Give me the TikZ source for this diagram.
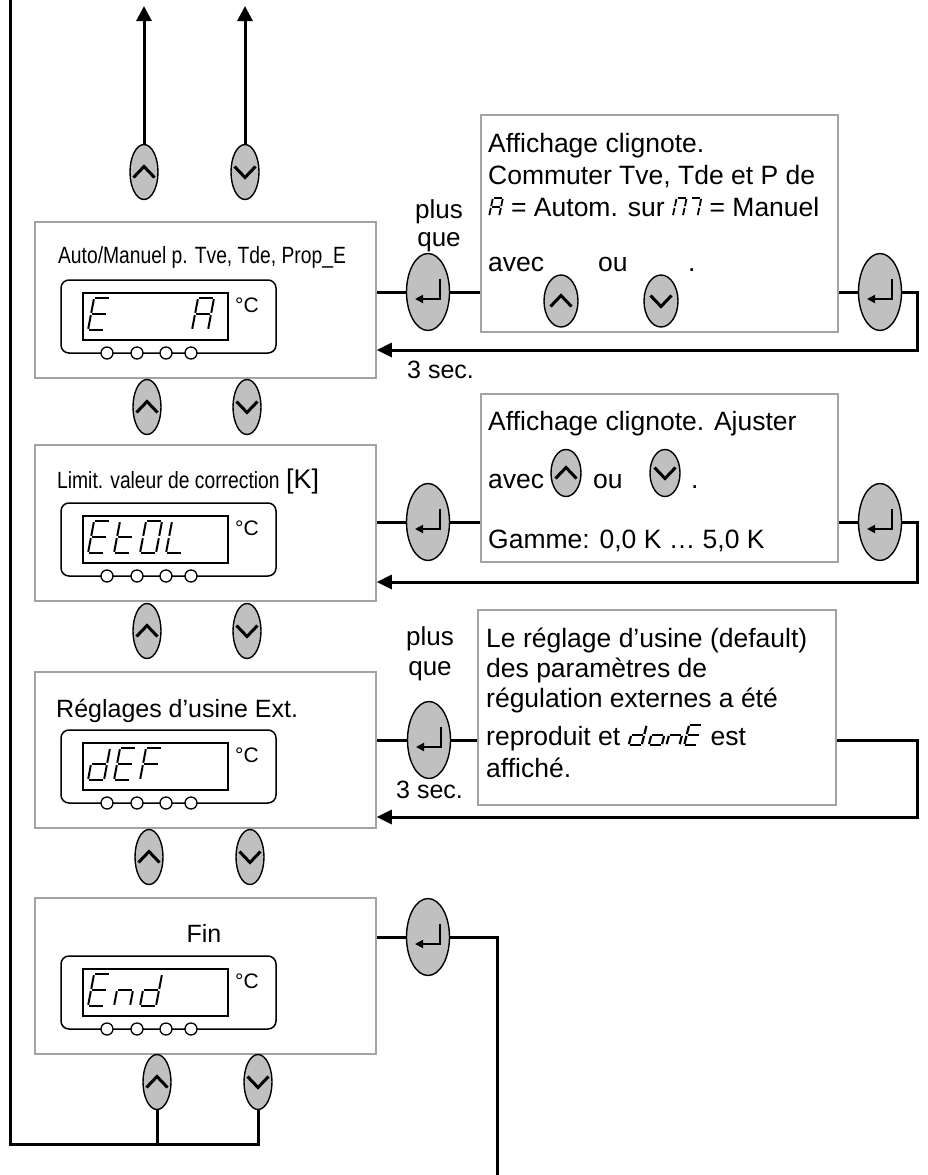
\documentclass[tikz,border=0pt]{standalone}
\usepackage{fontspec}
\setmainfont{Liberation Sans}
\newfontfamily\narrowfont[FakeStretch=0.82]{Liberation Sans}
\usepackage{tikz}
\usetikzlibrary{arrows.meta,calc,positioning,shapes.geometric}
\definecolor{keygray}{RGB}{192,192,192}
\definecolor{framegray}{RGB}{163,163,163}
\pgfkeys{/seven/.cd,
  a/.code={\draw[seg] (0.38,0) -- (1.38,0);},
  b/.code={\draw[seg] (1.38,0) -- (1.19,1);},
  c/.code={\draw[seg] (1.19,1) -- (1,2);},
  d/.code={\draw[seg] (0,2) -- (1,2);},
  e/.code={\draw[seg] (0.19,1) -- (0,2);},
  f/.code={\draw[seg] (0.38,0) -- (0.19,1);},
  g/.code={\draw[seg] (0.19,1) -- (1.19,1);}}
\tikzset{
  seg/.style={line width=2pt,shorten <=1.2pt,shorten >=1.2pt},
  digit/.pic={\pgfkeys{/seven/.cd,#1}},
  lcdseg/.style={x=16pt,y=-16pt}
}
\newcommand{\lcdchar}[4]{\tikz[baseline=0pt]\path (0pt,2*#2) pic[x=#1,y=-#2,seg/.append style={line width=#3,shorten <=0.9pt,shorten >=0.9pt}] {digit={#4}};}

\begin{document}
\begin{tikzpicture}[x=1pt,y=-1pt,>=Latex,every node/.style={inner sep=0pt},
  panel/.style={draw=framegray,line width=1.5pt,minimum width=341,minimum height=156},
  tbox/.style={draw=framegray,line width=1.5pt},
  lcd/.style={draw,line width=1.5pt,rounded corners=8pt,minimum width=215,minimum height=73},
  window/.style={draw,line width=1.5pt,minimum width=145,minimum height=47},
  led/.style={circle,draw,fill=white,line width=1.3pt,minimum size=12},
  key/.style={ellipse,draw,fill=keygray,line width=1.4pt,minimum width=28,minimum height=55},
  upkey/.style={key,path picture={\draw[line width=3pt] ([shift={(-10.5pt,-5.5pt)}]path picture bounding box.center) -- ++(10.5pt,11pt) -- ++(10.5pt,-11pt);}},
  downkey/.style={key,path picture={\draw[line width=3pt] ([shift={(-10.5pt,5.5pt)}]path picture bounding box.center) -- ++(10.5pt,-11pt) -- ++(10.5pt,11pt);}},
  enterkey/.style={key,minimum width=43,minimum height=77,path picture={\draw[line width=1.8pt,-{Triangle[length=8pt,width=8pt]}] ([shift={(12pt,13pt)}]path picture bounding box.center) -- ++(0pt,-20pt) -- ++(-25pt,0pt);}},
  conn/.style={line width=3pt},
  ret/.style={conn,-{Triangle[length=15pt,width=14pt]}},
  txt/.style={anchor=base west,font=\fontsize{26.5}{30}\selectfont},
  lbl/.style={anchor=base,font=\fontsize{26}{30}\selectfont}]
  \useasboundingbox (0,0) rectangle (927,1175);

  % the four menu panels with their displays
  \foreach \n/\y in {1/222,2/445,3/672,4/898}{
    \node[panel] (p\n) at (205.5,\y+78) {};
    \node[lcd] (l\n) at (168.5,\y+94.5) {};
    \node[window] (w\n) at (155.5,\y+94.5) {};
    \node[anchor=base west,font=\fontsize{21}{24}\selectfont] (c\n) at (235,\y+90) {°C};
    \foreach \x [count=\k] in {107,137,166,191}
      \node[led] (o\n\k) at (\x,\y+131) {};
  }
  \node[anchor=base,font=\narrowfont\fontsize{23.5}{28}\selectfont] (h1) at (202,263) {Auto/Manuel p. Tve, Tde, Prop\_E};
  \node[anchor=base west,font=\fontsize{23.5}{28}\selectfont] (h2) at (57,488) {{\narrowfont Limit. valeur de correction} {\fontsize{27}{28}\selectfont[K]}};
  \node[anchor=base west,font=\fontsize{25}{28}\selectfont] (h3) at (56,717) {Réglages d’usine Ext.};
  \node[anchor=base,font=\fontsize{25}{28}\selectfont] (h4) at (204,942) {Fin};

  % display digits
  \path (88,298) pic[lcdseg] {digit={a,d,e,f,g}};
  \path (192,298) pic[lcdseg] {digit={a,b,c,e,f,g}};
  \path (88,521) pic[lcdseg] {digit={a,d,e,f,g}};
  \path (114,521) pic[lcdseg] {digit={d,e,f,g}};
  \path (140,521) pic[lcdseg] {digit={a,b,c,d,e,f}};
  \path (166,521) pic[lcdseg] {digit={d,e,f}};
  \path (88,748) pic[lcdseg] {digit={b,c,d,e,g}};
  \path (114,748) pic[lcdseg] {digit={a,d,e,f,g}};
  \path (140,748) pic[lcdseg] {digit={a,e,f,g}};
  \path (88,974) pic[lcdseg] {digit={a,d,e,f,g}};
  \path (114,974) pic[lcdseg] {digit={c,e,g}};
  \path (140,974) pic[lcdseg] {digit={b,c,d,e,g}};

  % keys of the main column
  \node[upkey] (u0) at (144,172) {};
  \node[downkey] (d0) at (245,172) {};
  \node[upkey] (u1) at (147,407) {};
  \node[downkey] (d1) at (247,407) {};
  \node[upkey] (u2) at (147,631) {};
  \node[downkey] (d2) at (247,631) {};
  \node[upkey] (u3) at (149,857) {};
  \node[downkey] (d3) at (250,857) {};
  \node[upkey] (u5) at (157,1082) {};
  \node[downkey] (d5) at (258,1082) {};

  % text boxes
  \node[tbox,minimum width=357,minimum height=217] (tA) at (659.5,223.5) {};
  \node[tbox,minimum width=357,minimum height=168] (tB) at (659.5,478) {};
  \node[tbox,minimum width=358,minimum height=195] (tC) at (657,707.5) {};

  \node[txt] (a1) at (488,152) {Affichage clignote.};
  \node[txt] (a2) at (488,184) {Commuter Tve, Tde et P de};
  \node[txt] (a3) at (488,216) {\lcdchar{10pt}{9pt}{1.8pt}{a,b,c,e,f,g} = Autom. sur \lcdchar{10pt}{9pt}{1.8pt}{a,b,c,e,f}\lcdchar{10pt}{9pt}{1.8pt}{a,b,c} = Manuel};
  \node[txt] (a4) at (488,271) {avec};
  \node[upkey,minimum width=34,minimum height=52] (ua) at (561,301) {};
  \node[txt] (a5) at (598,271) {ou};
  \node[downkey,minimum width=34,minimum height=52] (da) at (661,301) {};
  \node[txt] (a6) at (688,271) {.};

  \node[txt] (b1) at (488,430) {Affichage clignote. Ajuster};
  \node[txt] (b2) at (488,488) {avec};
  \node[upkey,minimum width=30,minimum height=47] (ub) at (566,473) {};
  \node[txt] (b3) at (593,488) {ou};
  \node[downkey,minimum width=30,minimum height=47] (db) at (665,473) {};
  \node[txt] (b4) at (691,488) {.};
  \node[txt] (b5) at (488,548) {Gamme: 0,0 K … 5,0 K};

  \node[txt] (c1) at (486,647) {Le réglage d’usine (default)};
  \node[txt] (c2) at (486,677) {des paramètres de};
  \node[txt] (c3) at (486,707) {régulation externes a été};
  \node[txt] (c4) at (486,745) {reproduit et \lcdchar{13pt}{10pt}{2.2pt}{b,c,d,e,g}\lcdchar{13pt}{10pt}{2.2pt}{c,d,e,g}\lcdchar{13pt}{10pt}{2.2pt}{c,e,g}\lcdchar{13pt}{10pt}{2.2pt}{a,d,e,f,g} est};
  \node[txt] (c5) at (486,777) {affiché.};

  % enter keys and labels
  \node[enterkey] (e1) at (428,292) {};
  \node[enterkey] (r1) at (880,292) {};
  \node[enterkey] (e2) at (428,522) {};
  \node[enterkey] (r2) at (880,522) {};
  \node[enterkey] (e3) at (429,740) {};
  \node[enterkey] (e4) at (428,937) {};
  \node[lbl] (m1) at (439,218) {plus};
  \node[lbl] (q1) at (439,246) {que};
  \node[lbl] (m3) at (430,645) {plus};
  \node[lbl] (q3) at (430,675) {que};
  \node[txt,font=\fontsize{25}{30}\selectfont] (s1) at (407,378) {3 sec.};
  \node[txt,font=\fontsize{25}{30}\selectfont] (s3) at (396,798) {3 sec.};

  \coordinate (j1) at (917,350);
  \coordinate (j2) at (917,582);
  \coordinate (j3) at (917,817);
  \coordinate (j4) at (497,1175);
  \coordinate (tl) at (10,0);
  \coordinate (bl) at (10,1144);
  \coordinate (t0) at (144,6);
  \coordinate (t1) at (245,6);

  % connectors
  \draw[conn] (p1.east |- e1.west) -- (e1.west);
  \draw[conn] (e1.east) -- (tA.west |- e1.east);
  \draw[conn] (tA.east |- r1.west) -- (r1.west);
  \draw[ret] (r1.east) -| (j1) -- (p1.east |- j1);
  \draw[conn] (p2.east |- e2.west) -- (e2.west);
  \draw[conn] (e2.east) -- (tB.west |- e2.east);
  \draw[conn] (tB.east |- r2.west) -- (r2.west);
  \draw[ret] (r2.east) -| (j2) -- (p2.east |- j2);
  \draw[conn] (p3.east |- e3.west) -- (e3.west);
  \draw[conn] (e3.east) -- (tC.west |- e3.east);
  \draw[ret] (tC.east |- e3.east) -| (j3) -- (p3.east |- j3);
  \draw[conn] (p4.east |- e4.west) -- (e4.west);
  \draw[conn] (e4.east) -| (j4);
  \draw[conn,-{Triangle[length=15pt,width=15pt]}] (u0.north) -- (t0);
  \draw[conn,-{Triangle[length=15pt,width=15pt]}] (d0.north) -- (t1);
  \draw[conn] (tl) -- (bl) -| (d5.south);
  \draw[conn] (u5.south) -- (u5.south |- bl);
\end{tikzpicture}
\end{document}
